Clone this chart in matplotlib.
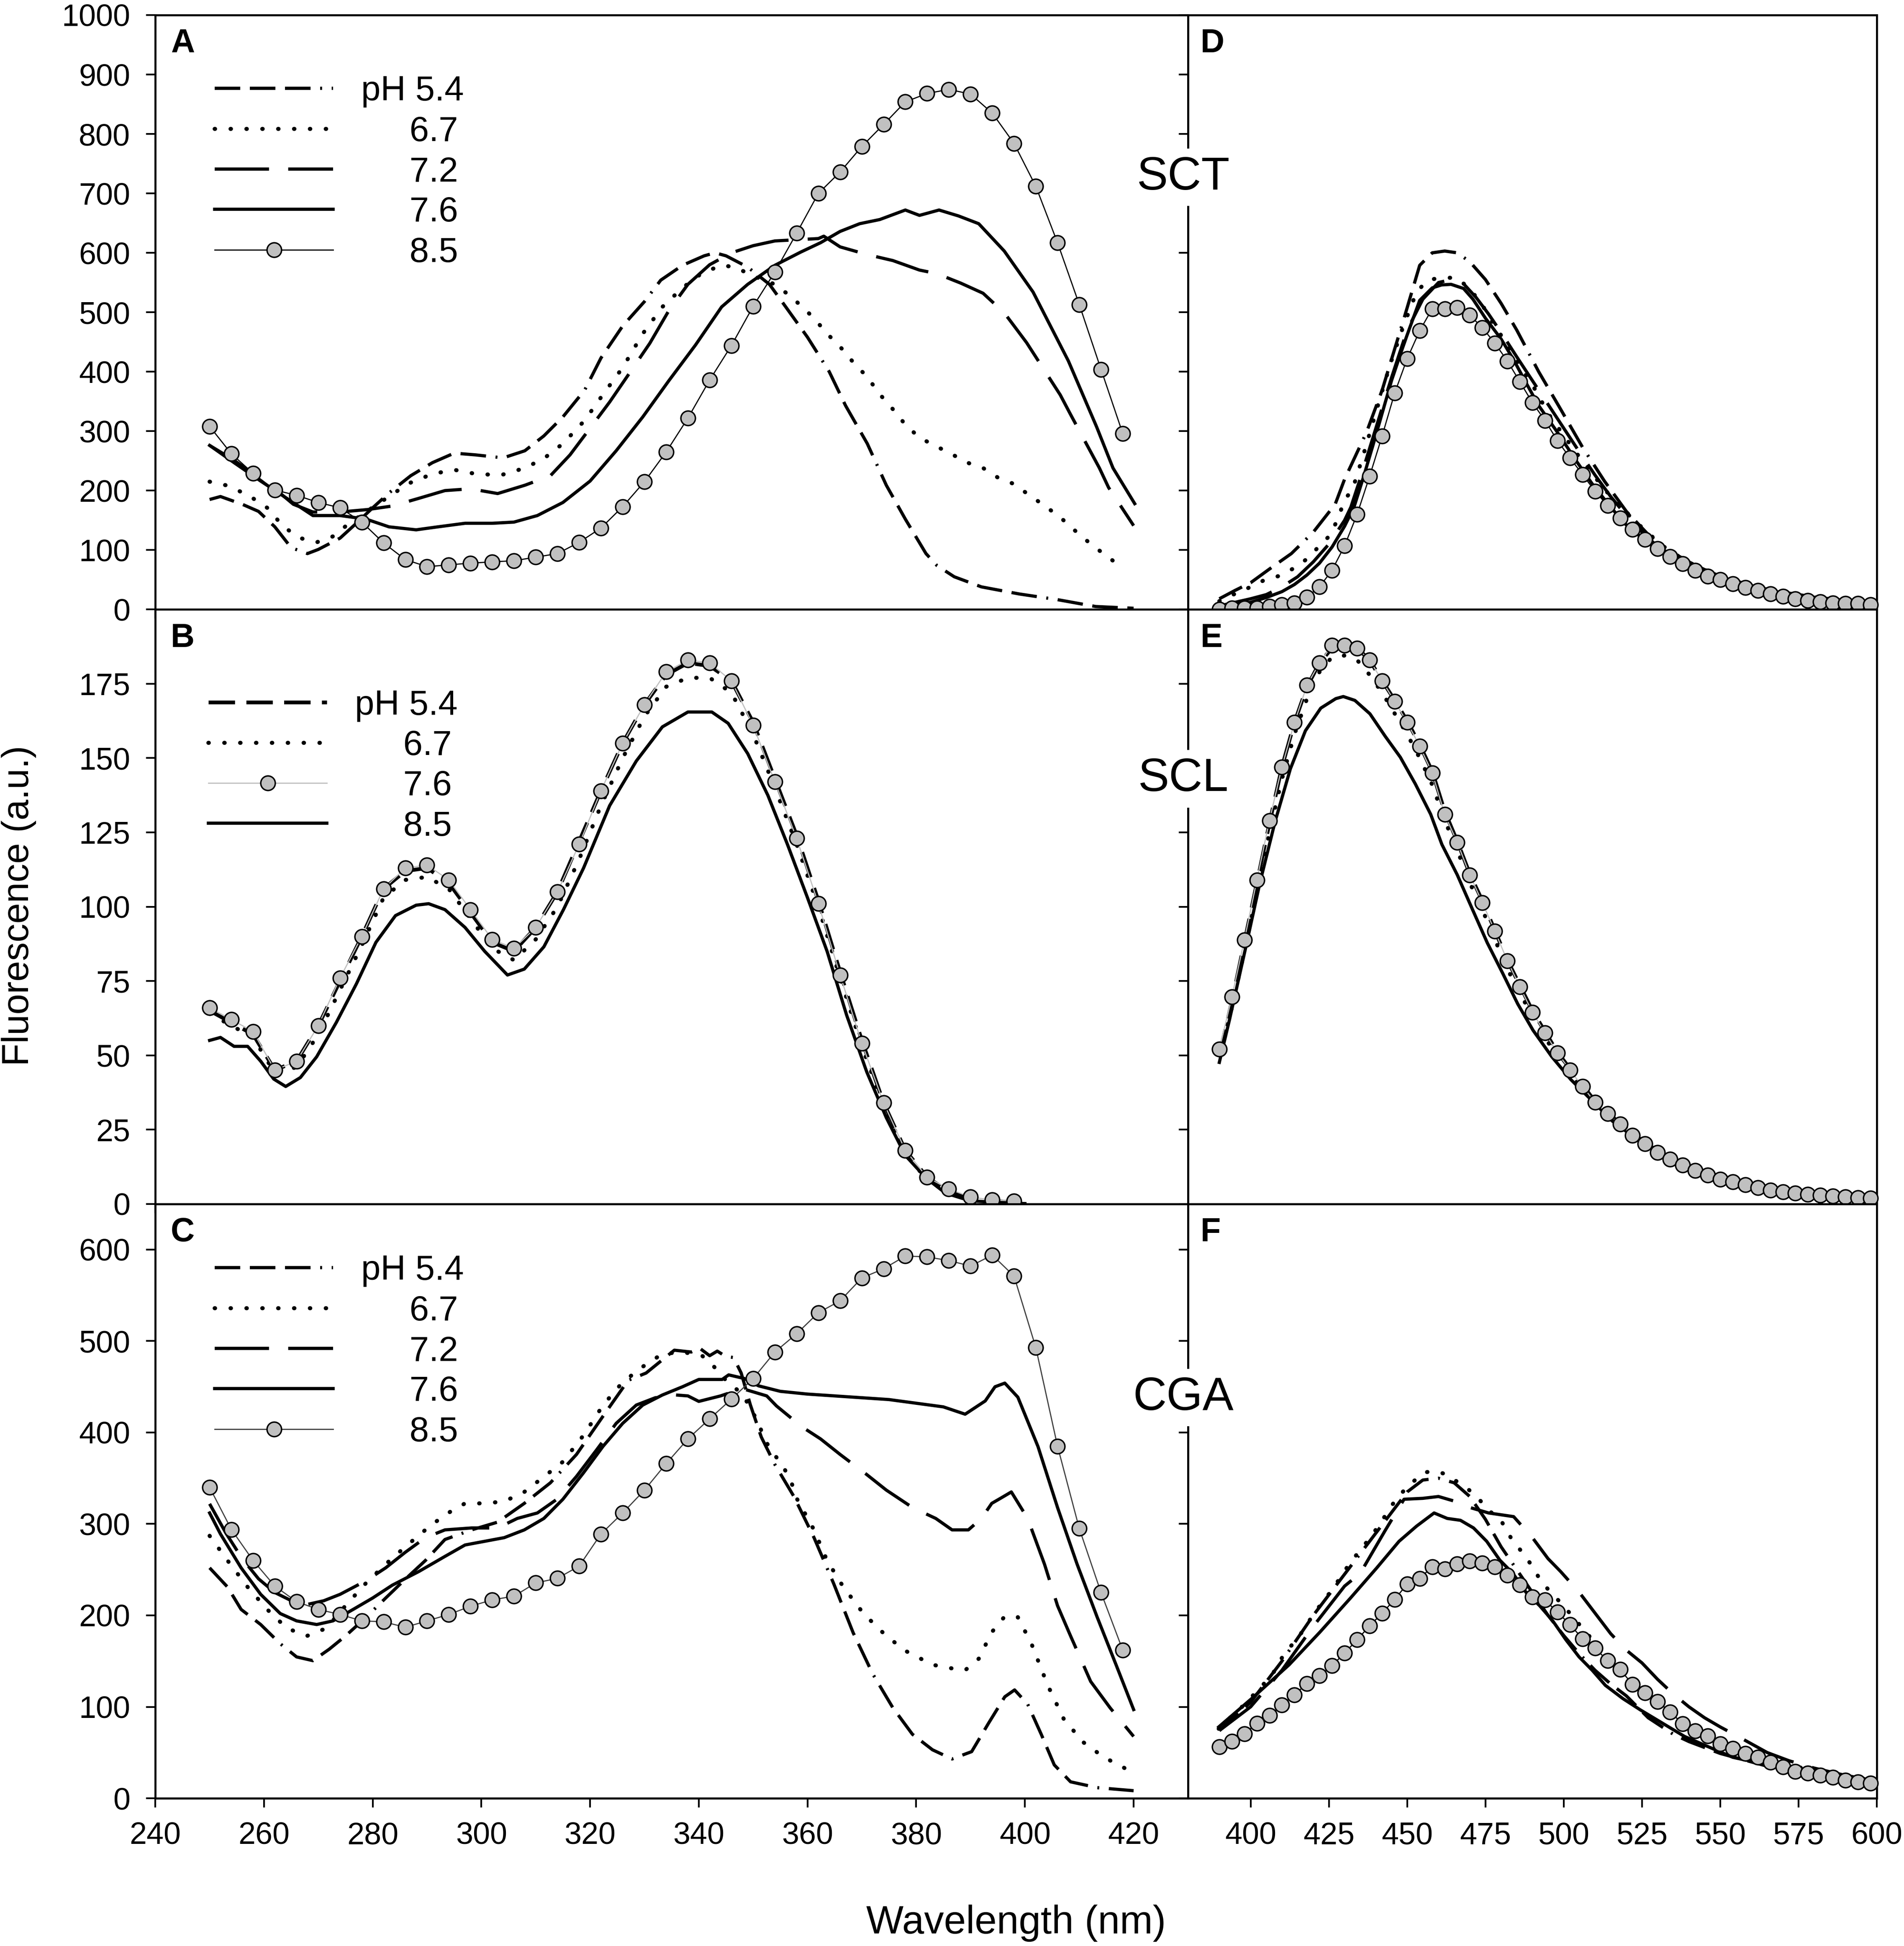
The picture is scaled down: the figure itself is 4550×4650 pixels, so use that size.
import matplotlib
matplotlib.use("Agg")
import matplotlib.pyplot as plt

plt.rcParams['font.family'] = ['Liberation Sans', 'DejaVu Sans']

# ---------------- data ----------------
# A: SCT excitation
a54_x = [250, 252, 256, 259, 262, 265, 268, 270, 274, 277, 280, 283, 287, 291, 295, 299, 304, 308, 311.5, 315,
         319, 322, 326, 330, 333, 337, 341, 343, 345, 349, 353, 356, 360, 364, 367, 371, 374.5, 378, 381.8, 383.8,
         387, 392, 399, 406, 413, 420]
a54_y = [185, 190, 177, 165, 139, 104, 94, 101, 120, 145, 171, 196, 225, 247, 263, 260, 255, 267, 292, 324,
         369, 423, 477, 518, 554, 579, 595, 600, 595, 576, 547, 509, 458, 400, 343, 279, 209, 152, 94, 74,
         55, 38, 26, 16.5, 5, 2]
a67_x = [250, 253, 257, 260.6, 263.6, 266.7, 269.7, 272.7, 275.7, 279.4, 283, 286.6, 291, 295, 299, 303.6, 308,
         311.5, 315, 319, 322.4, 326, 329.7, 333.3, 337, 340.6, 344.2, 346.6, 350.3, 354, 356.3, 358.7, 361.2,
         363.6, 366, 368.4, 371, 373.3, 375.7, 378, 380.6, 383.8, 386.6, 389.4, 392.3, 395, 398, 400.7, 403.7,
         406.5, 409.3, 412, 415, 418]
a67_y = [215, 209, 193, 171, 139, 120, 113, 123, 145, 168, 190, 212, 228, 235, 228, 226, 238, 254, 279, 318,
         362, 407, 464, 509, 541, 566, 579, 576, 560, 547, 531, 512, 490, 464, 442, 416, 391, 362, 337, 311,
         289, 274, 261, 247, 238, 222, 211, 193, 174, 155, 132, 111, 90, 70]
a72_x = [250, 254.5, 258, 262, 265.4, 269, 274, 279, 283.6, 288.5, 293.3, 298, 303, 308, 312.7, 316.3, 320,
         323.6, 327.2, 331, 334.5, 338, 342, 346, 350, 354, 358, 362, 363, 366, 371, 375.7, 380.6, 383.8, 388.2,
         392.3, 396.2, 397.6, 400.3, 406.5, 408.4, 413.7, 415.4, 420]
a72_y = [276, 251, 228, 203, 177, 164, 164, 168, 174, 187, 200, 203, 195, 209, 225, 260, 305, 349, 397, 448,
         503, 547, 580, 600, 612, 620, 622, 624, 628, 610, 597, 587, 571, 565, 549, 532, 499, 482, 449, 361,
         328, 238, 205, 141]
a76_x = [250, 254.5, 259.4, 264.2, 269, 274, 278.8, 283, 288, 292, 297, 302, 306, 310.3, 315, 320, 324.8, 329.7,
         334.5, 339.4, 344.2, 349, 354, 358.7, 362.4, 366, 369.6, 373.3, 378, 380.6, 384.2, 387.8, 391.5, 396.2,
         401.5, 408, 413.2, 416.2, 420.2]
a76_y = [276, 247, 216, 187, 158, 158, 152, 139, 134, 139, 145, 145, 147, 158, 180, 216, 267, 324, 385, 445,
         509, 547, 579, 601, 617, 636, 649, 656, 672, 663, 672, 662, 649, 603, 534, 418, 307, 238, 178]
a85_x = list(range(250, 419, 4))
a85_y = [308, 262, 229, 201, 192, 180, 171, 147, 112, 84, 72, 75, 78, 80, 82, 88, 94, 113, 137, 173, 215, 265,
         322, 386, 444, 510, 568, 633, 700, 736, 779, 816, 854, 868, 875, 867, 835, 784, 712, 617, 513, 404, 296]

# B: SCL excitation
b_x = list(range(250, 399, 4))
b54_y = [65, 61, 57, 45, 48, 60, 75, 90, 106, 112, 113, 108, 98, 88, 85, 93, 105, 122, 139, 155,
         168, 178, 182, 181, 176, 162, 143, 124, 102, 78, 55, 34, 18, 9, 4, 2, 1, 0.5]
b67_y = [64, 60, 56, 44, 46, 57, 72, 87, 103, 109, 110, 106, 96, 86, 82, 89, 100, 116, 134, 150,
         164, 174, 177, 177, 172, 158, 140, 121, 100, 76, 53, 33, 17, 8, 4, 2, 1, 0.5]
b76_y = [66, 62, 58, 45, 48, 60, 76, 90, 106, 113, 114, 109, 99, 89, 86, 93, 105, 121, 139, 155,
         168, 179, 183, 182, 176, 161, 142, 123, 101, 77, 54, 34, 18, 9, 5, 2.3, 1.3, 1]
b85_x = [250, 252, 254.5, 257, 259.4, 261.8, 264, 266.7, 269.7, 273.3, 277, 280.6, 284.2, 288, 290.3, 293.3, 297,
         300.6, 304.8, 307.9, 311.5, 315.1, 318.8, 323.6, 328.5, 333.3, 338, 342.4, 345.4, 349, 352.7, 356.3, 360,
         363.6, 367.2, 370.9, 374.5, 378, 381.8, 385.4, 390, 397.5, 400]
b85_y = [55, 56, 53, 53, 48, 42, 39.5, 42.5, 49.5, 61, 74, 88, 97, 100.5, 101, 99, 93, 85, 77, 79,
         86.5, 99, 113, 134, 149, 160.5, 165.5, 165.5, 161.7, 151.5, 137.5, 121, 103, 85, 63.5, 44.4, 29, 16.3,
         8.7, 3.6, 1, 0.3, 0.1]

# C: CGA excitation
c54_x = [250, 253.3, 255.8, 259.4, 263, 266, 269, 272, 275, 278.8, 282.4, 286, 289.7, 293.3, 298.2, 303, 307.9,
         312.7, 317.5, 322.4, 327, 330.3, 333, 335.5, 338.6, 340.2, 342, 343.4, 345, 346.4, 347.8, 349.5, 351.5,
         354, 357.5, 361.2, 364.8, 368.4, 372, 375.7, 379.3, 383, 386.6, 390.2, 393.3, 396.3, 398.1, 400.5, 403,
         405.4, 408.4, 413.3, 420]
c54_y = [252, 231, 206.5, 190, 169, 154.6, 150.5, 163, 177.5, 198, 219, 239.6, 260, 283, 293.5, 302, 322.5, 345,
         376, 418, 457, 465, 478, 490, 488, 492, 484, 489, 483, 482, 465, 430, 395, 365, 330, 285, 235, 181, 136,
         99, 70, 53, 43, 51, 82, 111, 118.5, 103, 70, 36.5, 18, 11.6, 8.3]
c67_x = [250, 253.3, 257, 260.6, 264.2, 267.9, 271.5, 275, 278.8, 282.4, 286, 289.7, 293.3, 297, 300.6, 304.2,
         307.9, 311.5, 315, 318.8, 322.4, 326, 329.7, 333.3, 337, 340.6, 342.5, 345, 348, 349.7, 351.2, 352.1,
         353.9, 355.6, 357, 358.1, 361.2, 363.6, 366.6, 370.3, 374.5, 378.1, 383, 386.6, 389, 391.5, 393.9, 396.3,
         398.7, 401.2, 404.2, 407.2, 410.8, 414.5, 419.3]
c67_y = [287, 260, 231, 206.5, 186, 177.5, 186, 210.6, 235.5, 256, 275, 293.5, 310, 322.5, 322.5, 324.6, 335,
         351.6, 368, 397, 430, 455, 472, 486, 488, 484, 474, 457, 442, 425, 407, 392, 376, 362, 346, 327, 293.5,
         260, 231, 202, 177.5, 161, 146, 142, 140, 152.6, 181.6, 199, 198, 169, 123.5, 86, 61, 45, 30]
c72_x = [250, 253, 256, 259, 262, 265.4, 268, 271, 274, 278.8, 282.4, 286, 289.7, 293.3, 298.2, 303, 306.6,
         310.3, 313.9, 317.5, 321.2, 324.8, 328.5, 332, 335.8, 338, 340, 344, 348, 352.5, 354.3, 358.9, 362.4,
         366, 370.9, 374.5, 379.3, 383.6, 386.6, 389.6, 392, 393.9, 395.5, 397.5, 400.5, 403.6, 406, 408.4,
         412.1, 415.7, 420]
c72_y = [322, 290, 262, 240, 225, 215, 212, 216, 223, 238, 252, 269, 285, 293.5, 295.6, 295.6, 306, 312, 327,
         352, 381, 410, 430, 438, 441, 440, 434, 440, 448, 440, 429, 406.5, 393, 376, 354, 337, 318, 306, 293.5,
         293.5, 306, 322.5, 328, 335, 306, 256, 210.6, 177.5, 127.7, 98.7, 67.6]
c76_x = [250, 252, 255.8, 259.4, 263, 266, 269.7, 272.7, 276.4, 280, 283.6, 288.5, 293.3, 297, 300.6, 304.2,
         307.9, 311.5, 315, 318.8, 322.4, 326, 329.7, 333.3, 337, 340, 344.3, 345.5, 348.4, 351, 355, 360, 365,
         370, 375, 380, 385, 389, 392.7, 394.5, 396.3, 398.7, 402.4, 406, 409.6, 413.3, 416.9, 420]
c76_y = [312, 289, 252, 223, 202, 194, 190, 194, 206.5, 219, 233, 248, 264.5, 277, 281, 285, 293.5, 306, 327,
         356, 385, 410, 430, 441, 450, 458, 458, 463, 459, 451, 445, 442, 440, 438, 436, 432, 428, 420, 434.5,
         450, 454, 438.6, 384.7, 318, 256, 198, 144, 97]
c85_x = list(range(250, 419, 4))
c85_y = [340, 294, 260, 232, 215, 206.5, 201, 194, 193, 187, 194, 201, 210, 217, 221, 235.5, 240.5, 254, 289,
         312, 337, 366, 393, 415, 436.5, 459, 488, 508, 531, 544, 569, 579, 593, 592, 588, 582, 594, 571, 493,
         385, 295, 225, 162]

# D: SCT emission
d54_x = [390, 395, 400, 406, 413, 420, 427, 430, 437, 442, 449, 454, 458, 462, 466, 470, 475, 480, 485, 492,
         499, 506, 513, 520, 527, 533, 540, 545, 550, 560, 570, 580, 590, 600]
d54_y = [18, 32, 45, 68, 94, 130, 177, 219, 298, 369, 490, 579, 600, 603, 600, 585, 555, 515, 470, 400,
         337, 273, 216, 165, 126, 101, 80, 67, 56, 40, 29, 21, 15, 11]
d67_x = [390, 394, 399.6, 404.6, 408.8, 413.7, 418, 422, 425.6, 428, 430, 432.6, 436, 440.3, 444.6, 448.8, 453,
         456.5, 460.7, 465.6, 469.8, 474, 478, 482.4, 486.7, 491, 495, 499.3, 503.5, 507.7, 512, 516, 520.3, 526,
         531.6, 540, 550, 560, 570, 580, 590, 600]
d67_y = [14, 24, 37, 50, 56, 69, 85, 107, 126, 155, 184, 203, 260, 337, 413, 477, 534, 554, 558, 558,
         541, 512, 477, 442, 404, 369, 330, 298, 267, 238, 209, 184, 161, 133, 107, 78, 55, 39, 28, 20, 14, 10]
d72_x = [390, 395, 400, 405, 410, 415, 420, 425, 430, 432, 435, 440, 445, 450, 455, 460, 464, 468, 472, 476,
         480, 485, 490, 495, 500, 505, 510, 515, 520, 525, 530, 540, 550, 560, 570, 580, 590, 600]
d72_y = [6, 12, 18, 25, 38, 55, 80, 110, 150, 172, 220, 305, 390, 470, 522, 550, 555, 548, 525, 497,
         466, 425, 385, 345, 305, 265, 226, 190, 158, 130, 106, 74, 53, 38, 27, 19, 14, 10]
d76_x = [392, 400, 405, 410, 414, 418, 422, 426, 430, 433, 436, 439, 442, 445, 448, 450, 454, 458, 461, 464,
         468, 471, 475, 480, 484, 488, 492, 498, 504, 509, 515, 520, 526, 530, 540, 550, 560, 570, 580, 590, 600]
d76_y = [5, 12, 20, 30, 42, 58, 78, 105, 140, 172, 222, 275, 330, 385, 432, 462, 520, 541, 546, 547,
         540, 522, 490, 455, 420, 381, 343, 298, 250, 212, 172, 142, 116, 100, 72, 52, 37, 26, 18, 13, 9]
d85_x = list(range(390, 599, 4))
d85_y = [0, 2, 2, 2, 5, 8, 11, 21, 38, 66, 107, 160, 224, 292, 364, 422, 469, 506, 506, 508, 495, 474, 448,
         418, 383, 348, 318, 284, 255, 227, 199, 175, 154, 135, 118, 102, 89, 77, 66, 56, 50, 43, 37, 32, 26,
         22, 18, 15, 13, 11, 10, 10, 8]

# E: SCL emission
e_x = [390, 394, 398, 402, 406, 410, 414, 418, 422, 426, 430, 434, 438, 442, 446, 450, 454, 458, 462, 466,
       470, 474, 478, 482, 486, 490, 494, 498, 502, 506, 510, 518, 526, 534, 542, 550, 560, 570, 580, 590, 600]
e54_y = [50, 68, 88, 108, 128, 147, 162, 174, 182, 187, 188, 187, 183, 176, 169.5, 162.5, 154.5, 145.5, 132, 122,
         111, 102, 92, 82, 73.5, 65, 58, 51, 45.5, 40, 34.5, 27, 20.5, 15.2, 11.4, 8.5, 6, 4.2, 3.1, 2.4, 1.9]
e67_y = [50, 66, 85, 105, 125, 143, 158, 170, 179, 184, 184.5, 183, 178, 172, 165, 158, 150, 141, 129, 119,
         108, 99, 89, 79, 71, 63, 56, 49.5, 44, 38.5, 33.5, 26, 19.7, 14.6, 11, 8.2, 5.8, 4.1, 3, 2.3, 1.8]
e76_x = list(range(390, 599, 4))
e76_y = [52, 69.6, 88.8, 109, 129, 147, 162, 174.5, 182, 188, 188, 187, 183, 176, 169, 162, 154, 145, 131, 121.6,
         110.7, 101.4, 91.8, 81.8, 73, 64.5, 57.5, 50.8, 45, 39.5, 34.2, 30.4, 26.8, 23.1, 20.2, 17.3, 15, 13.1,
         11.2, 9.6, 8.3, 7.4, 6.5, 5.5, 4.6, 4, 3.6, 3.2, 2.9, 2.6, 2.3, 2.1, 1.9]
e85_x = [390, 393.3, 398.2, 403, 407.8, 412.7, 417.5, 422.4, 427.2, 429.6, 433.3, 438.1, 443, 447.8, 452.6, 457.5,
         461.1, 466, 470.8, 475.6, 480.5, 485.3, 490.2, 496.2, 502.3, 508.3, 515.6, 522.9, 530.1, 537.4, 544.6,
         551.9, 559.2, 566.4, 575, 585, 600]
e85_y = [47.6, 62.2, 85.2, 108.2, 128.6, 146.4, 159.2, 166.8, 170, 170.7, 169.4, 164.9, 157.3, 150.3, 141.3,
         131.1, 120.9, 110.7, 99.2, 87.8, 77.6, 67.3, 58.4, 49.5, 41.8, 35.5, 27.8, 22.1, 17.6, 13.8, 10.6, 8,
         6.1, 4.2, 3.2, 2.5, 1.7]

# F: CGA emission
f54_x = [390, 400, 410, 420, 430, 440, 450, 455, 460, 465, 470, 475, 480, 485, 490, 495, 500, 505, 510, 515,
         520, 527, 535, 540, 550, 564, 575, 585, 600]
f54_y = [74, 105, 150, 200, 245, 290, 335, 348, 350, 345, 330, 305, 275, 250, 225, 200, 178, 158, 140, 125,
         112, 88, 70, 62, 49, 36, 28, 23, 17]
f67_x = [389.8, 394, 398.2, 402.5, 406.7, 410.9, 415.1, 417.9, 420.7, 423.5, 426.3, 429.1, 431.9, 435.4, 438.2,
         441.7, 444.6, 447.4, 450.9, 455.1, 458.6, 462.8, 465.6, 469.1, 472.6, 475.4, 479.6, 483.1, 486.7, 489.5,
         492.3, 495.8, 499.3, 505, 510, 520, 530, 540, 550, 560, 570, 580, 590, 600]
f67_y = [76, 90, 103, 119, 134, 159, 175, 190, 204, 217, 229, 244, 258, 273, 285, 302, 318, 331, 343, 356,
         358, 354, 347, 339, 329, 316, 306, 285, 269, 256, 240, 225, 213, 190, 170, 135, 105, 80, 62, 48,
         38, 30, 23, 18]
f72_x = [390, 400, 410, 420, 430, 435, 443, 449, 455, 460, 465, 470, 476, 484, 490, 495, 499, 505, 511, 515,
         520, 525, 530, 535, 540, 545, 550, 556, 565, 572, 580, 590, 600]
f72_y = [74, 100, 140, 188, 232, 246, 293, 327, 328, 330, 325, 318, 312, 308, 285, 262, 248, 225, 198, 180,
         162, 148, 130, 114, 100, 88, 78, 67, 50, 41, 33, 25, 19]
f76_x = [389.8, 401, 412.3, 422.1, 431.9, 440.3, 447.4, 453, 458.6, 462.8, 467, 471.2, 475.4, 479.6, 483.8, 488,
         492.3, 496.5, 500.7, 504.9, 509.1, 513.3, 518.9, 524.5, 531.6, 538.6, 545.6, 554, 562.4, 572.3, 583.5,
         598.9]
f76_y = [78, 111, 146, 181.6, 219, 252, 281, 297.6, 312, 306, 304, 295.6, 281, 260.4, 245.8, 225, 210.6, 194,
         173.3, 154.6, 140, 123.5, 109, 96.6, 82, 67.6, 57.2, 44.8, 38.6, 32.3, 26, 15.8]
f85_x = list(range(390, 599, 4))
f85_y = [56.4, 62.2, 70.5, 82, 90.4, 102, 113.2, 125.6, 133.9, 145.1, 158.8, 173.3, 188.6, 202.3, 217.6, 234.2,
         240.4, 253.3, 250.8, 256.2, 259.5, 257, 253.3, 243.7, 233.4, 220.1, 216.8, 203.5, 189.9, 174.5, 164.2,
         150.5, 140.9, 124.4, 115.2, 105.7, 94.5, 81.3, 73.8, 68.4, 59.3, 54.3, 48.9, 44.8, 39.4, 34.4, 29.4,
         27.4, 25.3, 22.8, 19.9, 17.8, 16.6]

labels5 = ['pH 5.4', '     6.7', '     7.2', '     7.6', '     8.5']
labels4 = ['pH 5.4', '     6.7', '     7.6', '     8.5']

# ---------------- styles ----------------
LW = 5.5
DOT_LW = 7
DOT = (0, (0.1, 3.8))
DASHDOT = (0, (8, 3, 8, 3, 8, 3, 0.6, 3))
LONG = (0, (17, 6))
DASH_B = (0, (7, 3))
MK = dict(marker='o', ms=25, mfc='#c0c0c0', mec='k', mew=2.5, clip_on=False, zorder=4)

fig = plt.figure(figsize=(45.5, 46.5), dpi=100)
L0, LWID = 0.08154, 0.5424
R0, RWID = 0.62396, 0.36176
H = 0.30545
bots = [0.68681, 0.38136, 0.07591]

axA = fig.add_axes([L0, bots[0], LWID, H])
axB = fig.add_axes([L0, bots[1], LWID, H])
axC = fig.add_axes([L0, bots[2], LWID, H])
axD = fig.add_axes([R0, bots[0], RWID, H])
axE = fig.add_axes([R0, bots[1], RWID, H])
axF = fig.add_axes([R0, bots[2], RWID, H])


def five(ax, x54, y54, x67, y67, x72, y72, x76, y76, x85, y85, thin='k'):
    h = []
    h += ax.plot(x54, y54, color='k', lw=LW, ls=DASHDOT)
    h += ax.plot(x67, y67, color='k', lw=DOT_LW, ls=DOT, dash_capstyle='round')
    h += ax.plot(x72, y72, color='k', lw=LW, ls=LONG)
    h += ax.plot(x76, y76, color='k', lw=LW, ls='-')
    h += ax.plot(x85, y85, color=thin, lw=2, **MK)
    return h


hA = five(axA, a54_x, a54_y, a67_x, a67_y, a72_x, a72_y, a76_x, a76_y, a85_x, a85_y)
hC = five(axC, c54_x, c54_y, c67_x, c67_y, c72_x, c72_y, c76_x, c76_y, c85_x, c85_y, thin='#404040')
five(axD, d54_x, d54_y, d67_x, d67_y, d72_x, d72_y, d76_x, d76_y, d85_x, d85_y)
five(axF, f54_x, f54_y, f67_x, f67_y, f72_x, f72_y, f76_x, f76_y, f85_x, f85_y)


def four(ax, x, y54, y67, x76, y76, x85, y85):
    h = []
    h += ax.plot(x, y54, color='k', lw=6.5, ls=DASH_B)
    h += ax.plot(x, y67, color='k', lw=DOT_LW, ls=DOT, dash_capstyle='round')
    h += ax.plot(x76, y76, color='#c0c0c0', lw=2, **MK)
    h += ax.plot(x85, y85, color='k', lw=LW, ls='-')
    return h


hB = four(axB, b_x, b54_y, b67_y, b_x, b76_y, b85_x, b85_y)
four(axE, e_x, e54_y, e67_y, e76_x, e76_y, e85_x, e85_y)

leg_kw = dict(loc='upper left', frameon=False, fontsize=60, handlelength=3.4, handletextpad=0.8,
              labelspacing=0.22, borderpad=0, borderaxespad=0)
axA.legend(hA, labels5, bbox_to_anchor=(0.0575, 0.899), **leg_kw)
axB.legend(hB, labels4, bbox_to_anchor=(0.0515, 0.866), **leg_kw)
axC.legend(hC, labels5, bbox_to_anchor=(0.0575, 0.915), **leg_kw)

left_ticks = list(range(240, 421, 20))
for ax, yl, yt in [(axA, 1000, range(0, 1001, 100)), (axB, 200, range(0, 176, 25)), (axC, 650, range(0, 601, 100))]:
    ax.set_xlim(240, 430)
    ax.set_ylim(0, yl)
    ax.set_xticks(left_ticks)
    ax.set_yticks(list(yt))
for ax, yl, yt in [(axD, 1000, range(0, 1001, 100)), (axE, 200, range(0, 176, 25)), (axF, 650, range(0, 601, 100))]:
    ax.set_xlim(380, 600)
    ax.set_ylim(0, yl)
    ax.set_yticks(list(yt))
axD.set_xticks(list(range(400, 581, 20)))
axE.set_xticks(list(range(400, 581, 20)))
axF.set_xticks(list(range(400, 601, 25)))

for ax in [axA, axB, axC, axD, axE, axF]:
    ax.tick_params(axis='both', direction='out', length=16, width=3, labelsize=53)
    ax.tick_params(axis='x', pad=24)
    ax.tick_params(axis='y', pad=27)
    for s in ax.spines.values():
        s.set_linewidth(3.5)
for ax in [axA, axB, axD, axE]:
    ax.tick_params(labelbottom=False)
for ax in [axD, axE, axF]:
    ax.tick_params(labelleft=False)

for ax, letter in [(axA, 'A'), (axB, 'B'), (axC, 'C')]:
    ax.text(0.015, 0.937, letter, transform=ax.transAxes, fontsize=57, fontweight='bold', va='baseline')
for ax, letter in [(axD, 'D'), (axE, 'E'), (axF, 'F')]:
    ax.text(0.018, 0.937, letter, transform=ax.transAxes, fontsize=57, fontweight='bold', va='baseline')

for ax, name, yy in [(axA, 'SCT', 0.727), (axB, 'SCL', 0.715), (axC, 'CGA', 0.674)]:
    fig.text(0.9955, yy, name, transform=ax.transAxes, fontsize=80, ha='center', va='center', zorder=10,
             bbox=dict(boxstyle='square,pad=0.15', fc='white', ec='none'))

fig.text(0.0099, 0.5346, 'Fluorescence (a.u.)', rotation=90, fontsize=64, ha='center', va='center')
fig.text(0.5336, 0.0118, 'Wavelength (nm)', fontsize=68, ha='center', va='center')

fig.savefig('out.png', dpi=100, facecolor='white')
